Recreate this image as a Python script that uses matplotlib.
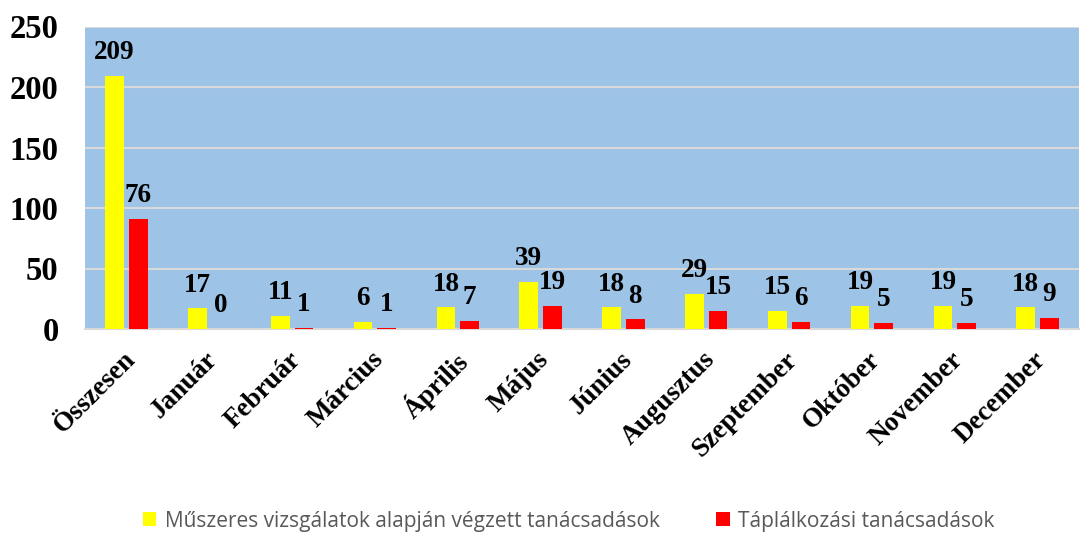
import matplotlib
matplotlib.use("Agg")
import matplotlib.pyplot as plt
import matplotlib.transforms as mtransforms
import numpy as np

categories = ["Összesen", "Január", "Február", "Március", "Április", "Május",
              "Június", "Augusztus", "Szeptember", "Október", "November", "December"]
yellow_vals = [209, 17, 11, 6, 18, 39, 18, 29, 15, 19, 19, 18]
red_vals = [91, 0, 1, 1, 7, 19, 8, 15, 6, 5, 5, 9]
yellow_labels = ["209", "17", "11", "6", "18", "39", "18", "29", "15", "19", "19", "18"]
red_labels = ["76", "0", "1", "1", "7", "19", "8", "15", "6", "5", "5", "9"]
series_names = ["Műszeres vizsgálatok alapján végzett tanácsadások", "Táplálkozási tanácsadások"]
yticks = [0, 50, 100, 150, 200, 250]

fig = plt.figure(figsize=(10.81, 5.34), dpi=100)
ax = fig.add_axes([85/1081, 1 - 329/534, (1079-85)/1081, (329-26.5)/534])
ax.set_facecolor("#9DC3E6")

x = np.arange(len(categories))
w = 0.225
gap = 0.06
b1 = ax.bar(x - (w + gap)/2, yellow_vals, w, color="#FFFF00", zorder=3)
b2 = ax.bar(x + (w + gap)/2, red_vals, w, color="#FF0000", zorder=3)

lab_font = dict(family="Liberation Serif", weight="bold", size=19.5)
for xi, v, t in zip(x - (w + gap)/2, yellow_vals, yellow_labels):
    ax.annotate(t, (xi, v), xytext=(0, 12), textcoords="offset points",
                ha="center", va="baseline", zorder=4, **lab_font)
for xi, v, t in zip(x + (w + gap)/2, red_vals, red_labels):
    ax.annotate(t, (xi, v), xytext=(0, 12), textcoords="offset points",
                ha="center", va="baseline", zorder=4, **lab_font)

ax.set_xlim(-0.5, len(categories) - 0.5)
ax.set_ylim(0, 250)
ax.set_yticks(yticks)
ax.set_yticklabels([str(t) for t in yticks], fontfamily="Liberation Serif",
                   fontweight="bold", fontsize=23.5)
ax.yaxis.grid(True, color="#D9D9D9", linewidth=1.5, zorder=1)
ax.set_axisbelow(True)
ax.tick_params(axis="y", length=0, pad=19)
ax.tick_params(axis="x", length=0, pad=13)
ax.set_xticks(x)
ax.set_xticklabels(categories, rotation=45, ha="right", va="top",
                   rotation_mode="anchor", fontfamily="Liberation Serif",
                   fontweight="bold", fontsize=19.5)
offset = mtransforms.ScaledTranslation(-4/100, 0, fig.dpi_scale_trans)
for lbl in ax.get_xticklabels():
    lbl.set_transform(lbl.get_transform() + offset)
for s in ["top", "right", "left"]:
    ax.spines[s].set_visible(False)
ax.spines["bottom"].set_color("#D9D9D9")
ax.spines["bottom"].set_linewidth(1.5)

leg = fig.legend([b1, b2], series_names, loc="center", bbox_to_anchor=(0.526, 1 - 521/534),
                 ncol=2, frameon=False, prop=dict(family="Open Sans", size=15),
                 handlelength=0.65, handleheight=0.65, handletextpad=0.4, columnspacing=2.72)
for t in leg.get_texts():
    t.set_color("#595959")

fig.savefig("out.png", dpi=100)
